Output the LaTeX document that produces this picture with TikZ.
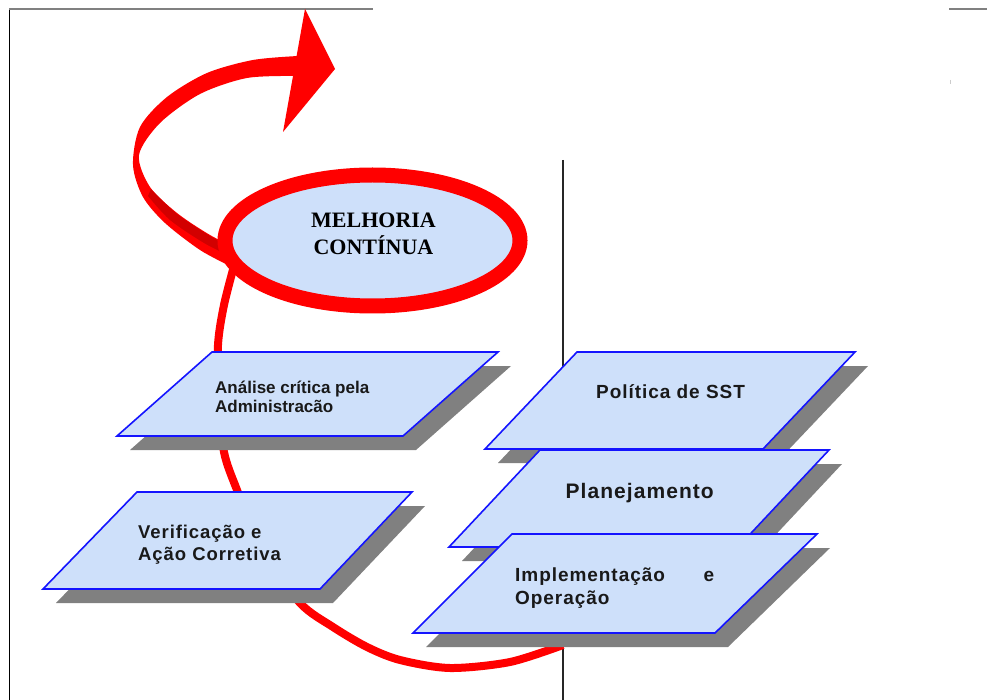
\documentclass[tikz,border=0pt]{standalone}
\usepackage{fontspec}
\setmainfont{Liberation Sans}
\newfontfamily\labelfont{Liberation Sans}[LetterSpace=5]
\newfontfamily\titlefont{Liberation Serif}
\usetikzlibrary{shapes.geometric}

\definecolor{slabfill}{RGB}{206,224,250}
\definecolor{slabedge}{RGB}{20,20,255}
\definecolor{slabshade}{RGB}{128,128,128}
\definecolor{loopred}{RGB}{255,0,0}
\definecolor{ribbondark}{RGB}{210,0,0}

\tikzset{
  slab/.style={fill=slabfill, draw=slabedge, line width=1.6pt, line join=miter},
  framerule/.style={line width=1.1pt},
  caption/.style={anchor=base west, inner sep=0pt, text=black!90},
}

% parallelogram panel with a drop shadow: corners TL, TR, BR, BL
\newcommand\slab[4]{%
  \begin{scope}[shift={(13,14)}]
    \fill[slabshade] (#1) -- (#2) -- (#3) -- (#4) -- cycle;
  \end{scope}
  \filldraw[slab] (#1) -- (#2) -- (#3) -- (#4) -- cycle;}

\begin{document}
\begin{tikzpicture}[x=1pt, y=-1pt]
\useasboundingbox (0,0) rectangle (987,700);

% page frame fragments and the dividing rule
\draw[framerule, black] (9.5,9) -- (9.5,700);
\draw[framerule, gray] (9,9) -- (373,9);
\draw[framerule, gray] (949,9) -- (987,9);
\draw[gray!40, line width=0.8pt] (950,80) -- (950,84);
\draw[framerule, black!85] (563,160) -- (563,700);

% red cycle running behind the panels
\draw[loopred, line width=8pt] plot[smooth] coordinates {(234,266) (224,305) (218,345) (219,400) (224,452) (237,490) (262,550) (300,603) (333,627) (367,647) (400,660) (450,668) (510,662) (563,645)};

% ribbon leaving the ellipse and turning into the arrow
\fill[loopred] plot[smooth] coordinates {(230,266) (200,250) (165,223) (143,197) (133,165) (140,127) (167,97) (207,73) (253,60) (298,56)}
  -- plot[smooth] coordinates {(296,76) (247,78) (200,94) (160,123) (139,155) (150,187) (177,213) (210,235) (240,250)} -- cycle;
\fill[ribbondark] plot[smooth] coordinates {(151,189) (177,214) (210,236) (236,250)}
  -- plot[smooth] coordinates {(232,257) (204,243) (170,220) (148,196)} -- cycle;
\fill[loopred] (305,9) -- (335,69) -- (283,132) -- cycle;

% central ellipse
\node[ellipse, draw=loopred, line width=15pt, fill=slabfill, minimum width=295pt,
      minimum height=131pt, inner sep=0pt] (melhoria) at (372.5,240.5) {};
\node[anchor=base, inner sep=0pt, font=\titlefont\bfseries\fontsize{22}{27}\selectfont] (melhoria1) at (373.5,228) {MELHORIA};
\node[anchor=base, inner sep=0pt, font=\titlefont\bfseries\fontsize{22}{27}\selectfont] (melhoria2) at (373.5,255) {CONTÍNUA};

% left column
\slab{212,352}{498,352}{403,436}{117,436}
\slab{137,492}{412,492}{320,589}{43,589}

% right stack
\slab{577,352}{855,352}{763,449}{485,449}
\slab{540,450}{829,450}{738,547}{449,547}
\slab{512,534}{817,534}{715,633}{413,633}

% panel captions
\node[caption] (analise) at (215,393)
  {\parbox[t]{220pt}{\fontsize{17}{19}\selectfont\bfseries Análise crítica pela\\Administracão}};
\node[caption] (verificacao) at (138,538)
  {\parbox[t]{220pt}{\labelfont\fontsize{18.5}{22}\selectfont\bfseries Verificação e\\Ação Corretiva}};
\node[caption] (politica) at (596,398)
  {\labelfont\fontsize{19}{23}\selectfont\bfseries Política de SST};
\node[caption] (planejamento) at (565.5,498)
  {\labelfont\fontsize{21}{25}\selectfont\bfseries Planejamento};
\node[caption] (implementacao) at (515,581)
  {\parbox[t]{199pt}{\labelfont\fontsize{19}{23}\selectfont\bfseries Implementação\hfill e\\Operação}};
\end{tikzpicture}
\end{document}
